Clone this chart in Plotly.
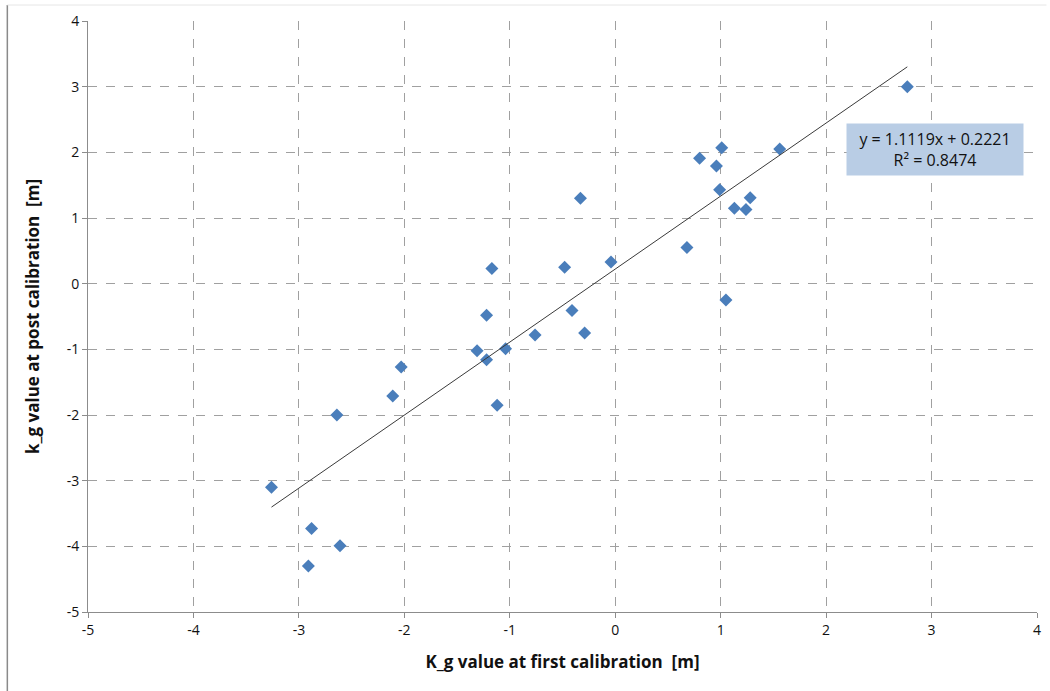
import plotly.graph_objects as go

# Data
first_cal = [2.77, 1.56, 1.01, 0.80, 0.96, 0.99, 1.28, 1.13, 1.24, 0.68, 1.05,
             -0.33, -0.04, -0.48, -1.17, -0.41, -0.29, -0.76, -1.22, -1.31,
             -1.22, -1.04, -1.12, -2.03, -2.11, -2.64, -3.26, -2.88, -2.61, -2.91]
post_cal = [3.00, 2.05, 2.07, 1.91, 1.79, 1.43, 1.31, 1.15, 1.13, 0.55, -0.25,
            1.30, 0.33, 0.25, 0.23, -0.41, -0.75, -0.78, -0.48, -1.02,
            -1.16, -0.99, -1.85, -1.27, -1.71, -2.00, -3.10, -3.73, -3.99, -4.30]
slope = 1.1119
intercept = 0.2221
r2 = 0.8474
tick_vals = list(range(-5, 5))

x_min, x_max = min(first_cal), max(first_cal)
trend_x = [x_min, x_max]
trend_y = [slope * v + intercept for v in trend_x]

FONT = "Open Sans, Liberation Sans, sans-serif"

fig = go.Figure()
fig.add_trace(go.Scatter(
    x=first_cal, y=post_cal, mode="markers",
    marker=dict(symbol="diamond", size=10, color="#4A7EBB"),
    showlegend=False, hoverinfo="x+y"))
fig.add_trace(go.Scatter(
    x=trend_x, y=trend_y, mode="lines",
    line=dict(color="#3a3a3a", width=1),
    showlegend=False, hoverinfo="skip"))

axis_common = dict(
    showgrid=True, gridcolor="#a0a0a0", griddash="dash", gridwidth=1,
    zeroline=False, showline=True, linecolor="#8c8c8c", linewidth=1,
    ticks="outside", ticklen=5, tickcolor="#8c8c8c",
    tickfont=dict(family=FONT, size=14, color="#111111"),
    tickvals=tick_vals, ticktext=[str(v) for v in tick_vals],
)

fig.update_layout(
    width=1050, height=691,
    margin=dict(l=88, r=9, t=21, b=79),
    paper_bgcolor="white", plot_bgcolor="white",
    xaxis=dict(range=[-5, 4], **axis_common,
               title=dict(text="<b>K_g value at first calibration  [m]</b>",
                          font=dict(family=FONT, size=17, color="#111111"),
                          standoff=18)),
    yaxis=dict(range=[-5, 4], **axis_common,
               title=dict(text="<b>k_g value at post calibration  [m]</b>",
                          font=dict(family=FONT, size=17, color="#111111"),
                          standoff=22)),
    font=dict(family=FONT),
)

fig.add_annotation(
    x=3.03, y=2.05, xref="x", yref="y",
    text=f"y = {slope}x + {intercept}<br>R² = {r2}",
    showarrow=False, align="center",
    font=dict(family=FONT, size=16, color="#111111"),
    bgcolor="#B9CDE5", borderpad=4, width=168,
)

# outer chart border (left and top)
fig.add_shape(type="line", xref="paper", yref="paper",
              x0=-0.085, x1=-0.085, y0=-0.14, y1=1.027,
              line=dict(color="#8a8a8a", width=1.5))
fig.add_shape(type="line", xref="paper", yref="paper",
              x0=-0.085, x1=1.01, y0=1.027, y1=1.027,
              line=dict(color="#e6e6e6", width=1))

fig.write_html("out.html")
